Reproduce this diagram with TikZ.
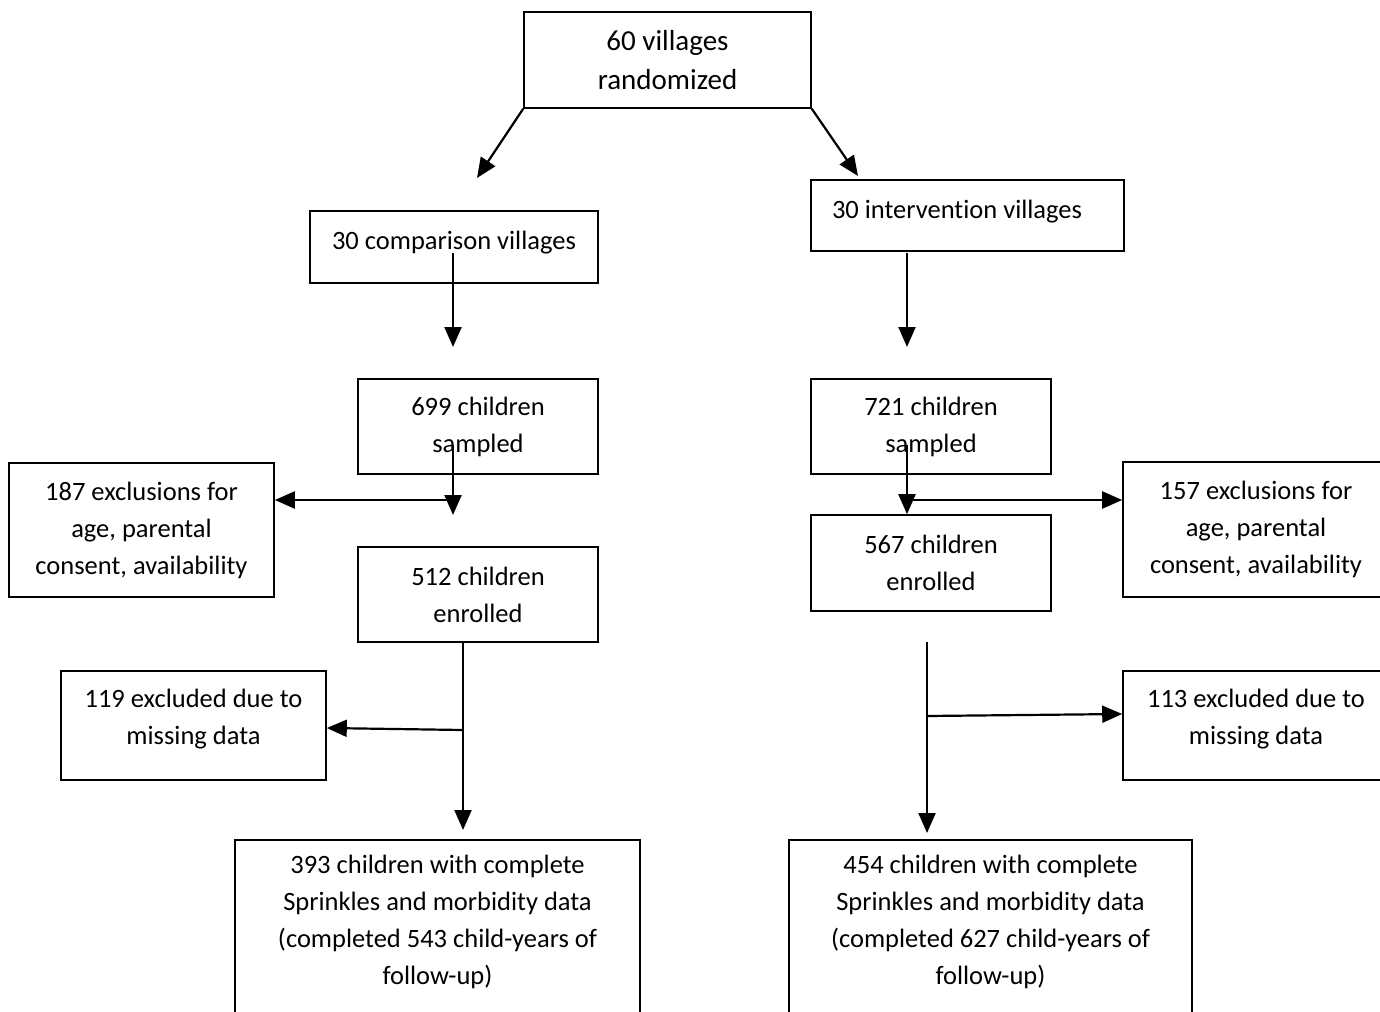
\documentclass[tikz,border=0pt]{standalone}
\usepackage{fontspec}
\setmainfont{Carlito}[Ligatures={NoCommon}]
\usetikzlibrary{arrows.meta}
\begin{document}
\begin{tikzpicture}[x=1pt,y=-1pt,
  box/.style={draw=black,line width=1.6pt,align=center,inner sep=0pt,
    font=\fontsize{26.5}{37}\selectfont},
  arr/.style={draw=black,line width=2.2pt,-{Triangle[length=20pt,width=17pt]}}]
\clip (0,0) rectangle (1380,1011);
\fill[white] (0,0) rectangle (1380,1011);
% boxes
\node[box,minimum width=287pt,minimum height=96pt,font=\fontsize{29}{39}\selectfont] (top) at (667.5,60) {60 villages\\randomized};
\node[box,minimum width=288pt,minimum height=72pt,text depth=14pt] (comp) at (454,247) {30 comparison villages};
\node[box,minimum width=313pt,minimum height=71pt,text depth=13pt,align=flush left,text width=271pt] (intv) at (967.5,215.5) {30 intervention villages};
\node[box,minimum width=240pt,minimum height=95pt] (s699) at (478,426.5) {699 children\\sampled};
\node[box,minimum width=240pt,minimum height=95pt] (s721) at (931,426.5) {721 children\\sampled};
\node[box,minimum width=265pt,minimum height=134pt] (ex187) at (141.5,530) {187 exclusions for\\age, parental\\consent, availability};
\node[box,minimum width=240pt,minimum height=95pt] (e512) at (478,594.5) {512 children\\enrolled};
\node[box,minimum width=240pt,minimum height=96pt] (e567) at (931,563) {567 children\\enrolled};
\node[box,minimum width=266pt,minimum height=135pt] (ex157) at (1256,529.5) {157 exclusions for\\age, parental\\consent, availability};
\node[box,minimum width=265pt,minimum height=109pt,text depth=18pt] (ex119) at (193.5,725.5) {119 excluded due to\\missing data};
\node[box,minimum width=266pt,minimum height=109pt,text depth=18pt] (ex113) at (1256,725.5) {113 excluded due to\\missing data};
\node[box,minimum width=405pt,minimum height=190pt,text depth=30pt] (f393) at (437.5,935) {393 children with complete\\Sprinkles and morbidity data\\(completed 543 child-years of\\follow-up)};
\node[box,minimum width=403pt,minimum height=190pt,text depth=30pt] (f454) at (990.5,935) {454 children with complete\\Sprinkles and morbidity data\\(completed 627 child-years of\\follow-up)};
% free ends / junctions
\coordinate (tl) at (477,178);
\coordinate (tr) at (858,176);
\coordinate (c1) at (453,253);
\coordinate (c2) at (453,347);
\coordinate (i1) at (907,253);
\coordinate (i2) at (907,347);
\coordinate (l1) at (453,445);
\coordinate (l2) at (453,515);
\coordinate (lj) at (453,500);
\coordinate (r1) at (907,445);
\coordinate (rj) at (907,500);
\coordinate (m1) at (463,642);
\coordinate (m2) at (463,830);
\coordinate (mj) at (463,730);
\coordinate (n1) at (927,642);
\coordinate (n2) at (927,833);
\coordinate (nj) at (927,716);
% connectors
\draw[arr] (top.south west) -- (tl);
\draw[arr] (top.south east) -- (tr);
\draw[arr] (c1) -- (c2);
\draw[arr] (i1) -- (i2);
\draw[arr] (l1) -- (l2);
\draw[arr] (lj) -- (lj -| ex187.east);
\draw[arr] (r1) -- (r1 |- e567.north);
\draw[arr] (rj) -- (rj -| ex157.west);
\draw[arr] (m1) -- (m2);
\draw[arr] (mj) -- (ex119.east |- 0,728);
\draw[arr] (n1) -- (n2);
\draw[arr] (nj) -- (ex113.west |- 0,714);
\end{tikzpicture}
\end{document}
